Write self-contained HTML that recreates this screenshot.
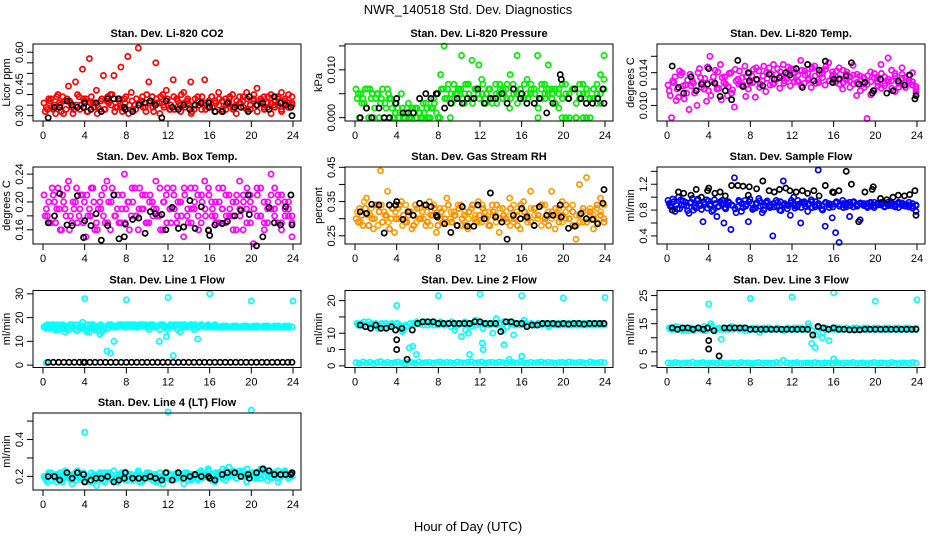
<!DOCTYPE html>
<html><head><meta charset="utf-8"><style>
html,body{margin:0;padding:0;background:#fff;}
svg{display:block;font-family:"Liberation Sans",Arial,sans-serif;}
</style></head><body>
<svg id="chart" width="936" height="540" viewBox="0 0 936 540">
<rect x="0" y="0" width="936" height="540" fill="#fff"/>
<text x="468" y="14" text-anchor="middle" font-size="13">NWR_140518  Std. Dev. Diagnostics</text>
<text x="468" y="531" text-anchor="middle" font-size="13">Hour of Day (UTC)</text>
<g id="panels"></g>
</svg>
<script>
// x tick labels
const xTicks = [0,4,8,12,16,20,24];
// black series times
const blackT = [0.5,1.1,1.6,2.3,2.8,3.3,3.9,4.0,4.6,5.1,5.6,6.2,6.8,7.3,7.8,7.9,8.6,9.2,9.8,10.3,10.8,11.4,11.8,12.4,13.0,13.5,14.1,14.6,15.2,15.9,16.0,16.5,17.2,17.7,18.4,19.0,19.7,19.8,20.5,21.1,21.7,22.2,22.8,23.3,23.8,23.9];
const flowT = [0.5,1.0,1.5,2.0,2.5,3.0,3.5,3.9,4.0,4.0,4.5,5.0,5.5,6.0,6.5,7.0,7.5,8.0,8.5,9.0,9.5,10.0,10.5,11.0,11.5,12.0,12.5,13.0,13.5,14.0,14.5,15.0,15.5,16.0,16.5,17.0,17.5,18.0,18.5,19.0,19.5,20.0,20.5,21.0,21.5,22.0,22.5,23.0,23.5,23.9];

// Panel 1: CO2
const co2A = [.36,.33,.38,.35,.40,.32,.37,.44,.34,.46,.39,.52,.38,.57,.36,.42,.33,.49,.37,.40,.49,.34,.53,.38,.58,.41,.35,.62,.37,.34,.46,.39,.55,.36,.40,.42,.33,.47,.38,.35,.41,.37,.46,.33,.39,.36,.47,.34,.39,.37,.41,.33,.38,.36,.40,.35,.39,.37,.41,.35,.38,.43,.36,.39,.34,.40,.37,.35,.41,.38,.36,.39];
const co2B = [.32,.38,.34,.31,.36,.39,.33,.37,.31,.35,.33,.38,.32,.36,.34,.31,.37,.33,.39,.35,.32,.38,.34,.36,.31,.37,.33,.35,.39,.32,.36,.34,.38,.31,.35,.37,.33,.39,.34,.32,.36,.38,.31,.35,.37,.33,.36,.34,.39,.32,.35,.37,.33,.38,.34,.31,.36,.39,.33,.35,.37,.32,.38,.34,.36,.31,.35,.39,.33,.37,.34,.36];
const co2C = [.34,.37,.33,.39,.35,.31,.38,.36,.33,.40,.35,.37,.32,.39,.36,.34,.38,.33,.36,.40,.34,.37,.32,.39,.35,.33,.38,.36,.34,.40,.37,.32,.36,.39,.34,.38,.35,.33,.37,.40,.34,.36,.32,.38,.35,.39,.33,.37,.34,.36,.38,.32,.35,.39,.33,.37,.36,.34,.38,.33,.40,.35,.37,.33,.39,.36,.34,.38,.32,.36,.40,.35];
const co2K = [.29,.34,.34,.37,.35,.34,.34,.36,.33,.36,.32,.38,.38,.38,.34,.33,.32,.35,.36,.37,.35,.29,.37,.34,.33,.35,.33,.35,.36,.36,.34,.32,.32,.36,.34,.34,.32,.39,.35,.36,.33,.39,.36,.35,.34,.30];
// Panel 2: pressure
const prA = [.006,.000,.004,.002,.006,.000,.005,.003,.000,.006,.004,.000,.002,.005,.000,.003,.000,.002,.001,.000,.003,.000,.002,.001,.000,.006,.004,.000,.007,.005,.006,.003,.007,.004,.006,.005,.008,.004,.006,.003,.007,.005,.004,.006,.002,.007,.005,.006,.004,.008,.005,.006,.013,.004,.007,.005,.006,.003,.005,.000,.007,.004,.006,.000,.005,.007,.000,.004,.006,.005,.003,.008];
const prB = [.004,.005,.003,.006,.004,.002,.005,.004,.003,.005,.002,.001,.000,.002,.001,.000,.002,.000,.001,.003,.002,.000,.004,.005,.009,.015,.006,.005,.004,.006,.013,.005,.007,.012,.006,.011,.005,.003,.006,.004,.005,.007,.006,.004,.009,.005,.013,.006,.004,.005,.007,.003,.000,.006,.005,.011,.004,.006,.002,.007,.000,.005,.006,.000,.004,.005,.006,.000,.004,.007,.009,.013];
const prC = [.005,.003,.006,.000,.005,.004,.000,.006,.002,.004,.000,.003,.001,.000,.002,.000,.001,.002,.000,.001,.000,.002,.003,.000,.006,.004,.007,.003,.005,.006,.004,.007,.005,.003,.006,.004,.007,.005,.006,.004,.003,.006,.005,.007,.004,.006,.003,.005,.007,.004,.006,.005,.002,.007,.004,.006,.005,.003,.006,.004,.005,.000,.006,.003,.007,.000,.005,.004,.006,.003,.005,.006];
const prK = [.000,.002,.000,.002,.000,.000,.003,.004,.001,.001,.001,.004,.005,.004,.005,.005,.002,.003,.004,.003,.004,.004,.006,.003,.004,.004,.005,.003,.006,.004,.005,.003,.003,.004,.001,.003,.009,.008,.004,.006,.004,.003,.003,.004,.006,.003];
// Panel 3: Li-820 temp
const tpA = [.0125,.0085,.0135,.0110,.0140,.0125,.0095,.0130,.0118,.0145,.0128,.0105,.0160,.0135,.0120,.0150,.0128,.0112,.0140,.0098,.0132,.0125,.0148,.0120,.0136,.0110,.0142,.0130,.0117,.0146,.0126,.0138,.0121,.0150,.0133,.0124,.0144,.0130,.0155,.0127,.0139,.0122,.0148,.0131,.0143,.0125,.0152,.0135,.0128,.0146,.0120,.0138,.0130,.0149,.0112,.0136,.0126,.0084,.0141,.0118,.0133,.0150,.0124,.0158,.0130,.0139,.0122,.0146,.0134,.0128,.0140,.0120];
const tpB = [.0118,.0130,.0106,.0142,.0124,.0115,.0138,.0127,.0100,.0134,.0120,.0147,.0112,.0128,.0141,.0107,.0135,.0123,.0115,.0144,.0126,.0134,.0111,.0139,.0128,.0146,.0122,.0136,.0140,.0125,.0150,.0132,.0141,.0127,.0138,.0145,.0129,.0137,.0124,.0142,.0133,.0147,.0136,.0128,.0139,.0144,.0130,.0141,.0135,.0126,.0143,.0131,.0122,.0137,.0128,.0118,.0134,.0126,.0113,.0139,.0128,.0121,.0135,.0129,.0143,.0117,.0127,.0138,.0122,.0131,.0125,.0116];
const tpC = [.0112,.0128,.0120,.0137,.0108,.0131,.0124,.0115,.0140,.0122,.0133,.0118,.0129,.0143,.0121,.0134,.0126,.0139,.0119,.0130,.0142,.0125,.0135,.0128,.0144,.0131,.0126,.0148,.0133,.0139,.0127,.0145,.0136,.0130,.0147,.0134,.0140,.0129,.0143,.0137,.0131,.0145,.0127,.0139,.0134,.0148,.0130,.0137,.0142,.0133,.0128,.0141,.0135,.0126,.0138,.0131,.0122,.0136,.0129,.0134,.0124,.0139,.0127,.0132,.0121,.0136,.0128,.0133,.0125,.0137,.0129,.0123];
const tpK = [.0148,.0122,.0115,.0135,.0118,.0126,.0126,.0145,.0127,.0111,.0118,.0107,.0155,.0123,.0140,.0130,.0132,.0124,.0138,.0132,.0134,.0140,.0137,.0145,.0122,.0150,.0130,.0143,.0154,.0128,.0132,.0132,.0136,.0152,.0126,.0128,.0115,.0118,.0132,.0115,.0118,.0130,.0125,.0137,.0108,.0112];
// Panel 4: amb box temp
const abA = [.21,.18,.17,.20,.22,.16,.19,.23,.17,.20,.18,.21,.15,.19,.22,.17,.20,.18,.23,.16,.21,.19,.17,.24,.20,.18,.22,.16,.19,.21,.17,.20,.23,.18,.16,.21,.19,.22,.17,.20,.15,.18,.22,.19,.21,.17,.23,.16,.20,.18,.22,.19,.17,.21,.18,.20,.23,.16,.19,.21,.14,.22,.18,.20,.17,.24,.19,.21,.16,.20,.18,.15];
const abB = [.18,.20,.22,.17,.19,.21,.18,.16,.20,.22,.19,.17,.21,.18,.20,.16,.19,.22,.17,.20,.18,.21,.19,.17,.20,.22,.18,.19,.21,.17,.20,.18,.19,.22,.20,.17,.19,.21,.18,.20,.22,.19,.17,.20,.18,.21,.19,.22,.18,.20,.17,.19,.21,.18,.20,.16,.19,.21,.17,.20,.19,.18,.22,.17,.19,.21,.18,.20,.17,.19,.20,.18];
const abC = [.19,.17,.21,.19,.16,.20,.22,.18,.19,.17,.21,.20,.18,.22,.16,.19,.21,.17,.20,.22,.18,.17,.21,.19,.16,.20,.18,.22,.19,.17,.21,.19,.18,.16,.20,.22,.17,.19,.20,.18,.21,.17,.19,.22,.16,.20,.18,.21,.19,.17,.20,.22,.18,.19,.16,.21,.18,.20,.22,.17,.19,.21,.18,.16,.20,.19,.22,.17,.21,.18,.19,.17];
const abK = [.170,.180,.212,.167,.166,.209,.149,.173,.166,.183,.145,.166,.210,.147,.150,.168,.175,.177,.155,.186,.183,.182,.160,.192,.162,.164,.202,.162,.193,.159,.152,.167,.169,.172,.180,.188,.210,.182,.137,.150,.192,.170,.167,.193,.210,.167];
// Panel 5: RH
const rhA = [.30,.33,.28,.36,.31,.27,.34,.44,.32,.38,.30,.26,.33,.35,.29,.31,.27,.34,.30,.32,.28,.35,.31,.26,.33,.29,.36,.30,.32,.28,.34,.31,.27,.33,.30,.35,.29,.32,.28,.34,.31,.26,.33,.30,.36,.29,.32,.27,.35,.31,.38,.33,.30,.34,.29,.32,.38,.27,.31,.35,.30,.33,.28,.24,.40,.29,.42,.31,.27,.33,.36,.30];
const rhB = [.32,.29,.35,.31,.33,.30,.28,.34,.31,.29,.33,.32,.30,.28,.34,.32,.31,.29,.33,.30,.32,.28,.34,.31,.30,.33,.29,.32,.31,.34,.28,.32,.30,.33,.31,.29,.34,.30,.32,.31,.29,.33,.30,.32,.28,.34,.31,.30,.32,.29,.33,.31,.30,.28,.34,.32,.30,.31,.33,.29,.32,.30,.34,.31,.29,.32,.30,.33,.31,.29,.32,.34];
const rhC = [.29,.31,.33,.28,.30,.34,.32,.29,.31,.27,.33,.30,.34,.31,.29,.32,.28,.33,.30,.34,.29,.31,.33,.28,.32,.30,.34,.29,.31,.33,.30,.28,.32,.34,.29,.31,.33,.30,.28,.32,.34,.30,.31,.29,.33,.30,.28,.34,.32,.30,.29,.33,.31,.34,.30,.28,.32,.33,.29,.31,.34,.30,.32,.28,.31,.33,.29,.32,.30,.34,.31,.29];
const rhK = [.320,.315,.342,.340,.258,.340,.340,.350,.298,.320,.310,.345,.340,.335,.310,.305,.285,.260,.280,.335,.278,.278,.340,.300,.375,.305,.290,.240,.310,.300,.330,.305,.280,.335,.310,.310,.340,.305,.272,.278,.315,.300,.298,.285,.345,.385];
// Panel 6: sample flow
const sfA = [.95,.85,.78,1.0,.88,.92,.75,.98,.83,.90,.62,.96,.87,.80,.70,.93,.60,.88,.50,1.30,.85,.78,.95,.62,.90,.83,.98,.76,.92,.86,.40,.95,.80,1.25,.88,.72,1.0,.85,.60,.93,.78,.96,.88,1.42,.82,.55,.90,.68,.45,.30,.95,.85,.70,.92,.88,.65,.90,.86,.92,.84,.90,.88,.85,.92,.87,.89,.84,.91,.86,.88,.83,.78];
const sfB = [.90,.97,.88,.82,.94,.86,.91,.80,.95,.87,.92,.83,.89,.96,.85,.90,.84,.93,.88,.82,.95,.90,.86,.93,.81,.89,.94,.87,.91,.84,.90,.86,.93,.88,.82,.91,.87,.95,.84,.90,.88,.93,.85,.90,.87,.92,.84,.89,.91,.86,.90,.88,.92,.85,.89,.91,.87,.90,.86,.92,.88,.89,.91,.87,.90,.86,.92,.88,.89,.85,.90,.87];
const sfC = [.86,.93,.82,.96,.88,.79,.92,.85,.97,.81,.89,.94,.78,.90,.86,.95,.82,.91,.87,.76,.93,.84,.89,.97,.83,.91,.86,.80,.94,.88,.85,.92,.79,.90,.87,.95,.83,.89,.92,.86,.90,.84,.93,.87,.80,.91,.88,.85,.93,.89,.84,.91,.87,.93,.86,.90,.88,.84,.91,.87,.89,.92,.86,.88,.91,.85,.90,.87,.89,.92,.86,.88];
const sfK = [.80,1.08,1.06,1.03,1.12,1.00,1.10,1.14,1.06,1.08,1.02,1.18,1.18,1.17,1.03,1.16,1.13,1.25,1.10,1.08,1.12,1.14,1.10,1.08,1.10,1.06,1.10,1.02,1.18,1.08,1.07,1.10,1.40,1.20,.62,1.08,1.12,1.16,.98,.96,1.00,1.03,1.02,1.04,1.10,.72];
// Panel 7: line 1
const l1A = [16,17,16,15,17,16,14,16,17,15,16,18,15,14,17,16,13,15,6,5,10,16,17,17,17,16,17,16,17,17,15,17,16,10,17,12,16,4,17,14,17,16,17,15,11,17,16,17,16,17,16,16,16,16,16,16,16,16,16,16,16,16,16,16,16,16,16,16,16,16,16,16];
const l1B = [16.5,15.5,17,16,15,17,16.5,15,16,17,15.5,16,14,17,16,15,17,16,15.5,17,16,16.5,17,16,16.5,17,16,16.5,17,16.5,16,17,16.5,15,17,16,17,16.5,15,17,16,16.5,17,16,16.5,17,16,16.5,16,16.5,16,16,16.5,16,16,16.5,16,16,16.5,16,16,16.5,16,16,16.5,16,16,16.5,16,16,16.5,16];
const l1C = [15.5,16.5,17,15,16,16.5,15,17,16,14.5,16.5,15.5,17,16,15,16.5,14,16,17,16,16.5,17,16.5,16,17,16.5,16,17,16.5,16,17,16,16.5,17,16,15,16.5,17,16,16.5,17,16.5,16,17,16,16.5,16,16,16.5,16,16,16.5,16,16,16.5,16,16,16.5,16,16,16.5,16,16,16.5,16,16,16.5,16,16,16.5,16,16];
const l1OutT = [0.3,4,8,12,16,20,24];
const l1OutV = [1,28,27.5,28.5,30,27,27];
const l1K = [1.2,1.2,1.2,1.2,1.2,1.2,1.2,1.2,1.2,1.2,1.2,1.2,1.2,1.2,1.2,1.2,1.2,1.2,1.2,1.2,1.2,1.2,1.2,1.2,1.2,1.2,1.2,1.2,1.2,1.2,1.2,1.2,1.2,1.2,1.2,1.2,1.2,1.2,1.2,1.2,1.2,1.2,1.2,1.2,1.2,1.2,1.2,1.2,1.2,1.2];
// Panel 8: line 2
const l2Low = [1.0,.8,1.2,.9,1.1,.7,1.0,1.3,.9,1.1,.8,1.0,1.2,.9,.6,1.1,1.0,.8,1.2,.9,1.0,1.1,.8,1.0,1.2,.9,1.1,1.0,.8,1.2,1.0,.9,1.1,1.3,.9,1.0,1.2,.8,1.0,1.1,.9,1.2,1.0,.8,1.1,1.0,.9,1.2,1.0,.8,1.1,.9,1.0,1.2,.9,1.1,1.0,.8,1.0,1.1,.9,1.2,1.0,.9,1.1,1.0,.8,1.2,1.0,.9,1.1,1.0];
const l2High = [13,12.5,13.5,12,13,12.5,11.5,13,12,12.5,13,11,12,10.5,12.5,5.5,6,3.5,13,12.5,13.5,13,12.5,13,13.5,12.5,13,12,11,13,9,13.5,10,12,14,13,7,12.5,13,10,14.5,13,11,12,13.5,9.5,12.5,13,14,12.5,13,12.5,13,12.5,13,12,12.5,13,12.5,13,12.5,13,12.5,13,12.5,13,12.5,13,12.5,13,12.5,13];
const l2C = [12.5,13,12,13.5,12.5,13,12,12.5,13,12,12.5,13,12.5,11,12,13,13,13.5,13,13.5,12.5,13,13.5,12.5,13,12.5,13,13.5,12,12.5,13,11,12.5,13,12.5,13.5,11.5,13,12.5,13,12.5,13,13.5,12,13,12.5,13,12.5,13,12.5,13,12.5,13,12.5,13,12.5,13,12.5,13,12.5,13,12.5,13,12.5,13,12.5,13,12.5,13,12.5,13,12.5];
const l2OutT = [4,8,12,16,20,24,4.1,11,12.3,14.3,14.8,16];
const l2OutV = [18.5,21.5,22,21.5,20.8,21,13,3.5,5,6.5,2,3];
const l2K = [12.5,12,11.5,12.5,11.5,11.5,12,11,8,5,11.5,2,11,13,13.5,13.5,13.5,13,13,13,13,13,13,13,13.5,13.5,13,13,13,10.5,13.5,13.5,13,13,12,12.5,12.5,13,13,13,12.8,13,12.8,13,13,12.8,13,13,13,13];
// Panel 9: line 3
const l3Low = [1.1,.9,1.2,1.0,.8,1.1,1.0,1.3,.9,1.0,1.2,.8,1.0,1.1,.9,1.2,1.0,.8,1.1,1.0,.9,1.2,1.0,1.1,.8,1.0,1.2,.9,1.1,1.0,.9,1.2,1.0,2.0,1.1,.9,1.0,1.2,.8,1.0,1.1,.9,1.2,1.0,.9,1.1,1.0,.8,1.2,1.0,.9,1.1,1.0,1.2,.9,1.0,1.1,.8,1.0,1.2,.9,1.1,1.0,.9,1.2,1.0,.8,1.1,1.0,.9,1.2,1.0];
const l3High = [13.5,13,14,13,12.5,13.5,13,12.5,13.5,13,14,13.5,15,12.5,13,9.5,13.5,13,14,13.5,13,13.5,12.5,13,13.5,13,12,13.5,13,13.5,13,13.5,13,12.5,13.5,13,13.5,13,13.5,13,15,8,6.5,14,10,13,9,13.5,13,13.5,13,13.5,13,13.5,13,13,13.5,13,13,13.5,13,13,13.5,13,13,13.5,13,13,13.5,13,13,13.5];
const l3C = [13,13.5,13,13.5,13,12.5,13.5,13,13.5,13,12.5,13,14,13,13.5,13,13,13.5,13,13.5,13,13,13.5,13,13,13.5,13,13,13.5,13,13,13.5,13,13,13.5,13,13,13.5,13,13,14,12.5,11,13.5,12,13.5,13,13,13.5,13,13,13.5,13,13,13.5,13,13,13.5,13,13,13.5,13,13,13.5,13,13,13.5,13,13,13.5,13,13];
const l3OutT = [4,8,12,16,20,24,16];
const l3OutV = [22,24,24.5,26,23,23.5,2.5];
const l3K = [13.5,13,13.5,13.5,13,13.5,13,13.5,9,6,12.5,3.5,13.5,13.5,13.5,13.5,13.5,13,13,13,13,13,13,13,13,13,13,13,13,11,14,13.5,13,13.5,13,13,12.8,12.8,12.8,13,13,13,13,13,13,13,13,13,13,13];
// Panel 10: line 4
const l4A = [.20,.17,.22,.19,.21,.18,.23,.20,.16,.22,.19,.21,.17,.20,.20,.15,.22,.18,.21,.19,.23,.17,.20,.22,.18,.21,.19,.23,.17,.20,.22,.18,.21,.19,.16,.22,.20,.18,.21,.19,.16,.22,.19,.21,.18,.23,.20,.24,.19,.17,.22,.20,.18,.25,.21,.19,.23,.20,.17,.22,.22,.19,.21,.24,.18,.22,.20,.17,.21,.23,.19,.20];
const l4B = [.19,.22,.18,.21,.20,.17,.22,.19,.21,.18,.20,.22,.19,.17,.21,.20,.18,.22,.19,.21,.17,.20,.22,.18,.21,.19,.20,.22,.18,.21,.19,.20,.17,.22,.20,.19,.21,.18,.22,.20,.19,.21,.18,.20,.22,.19,.21,.20,.18,.22,.21,.19,.23,.20,.22,.19,.21,.23,.20,.22,.19,.21,.24,.20,.22,.19,.21,.23,.20,.22,.19,.21];
const l4C = [.18,.21,.20,.17,.22,.19,.20,.18,.21,.23,.19,.17,.20,.22,.18,.21,.19,.17,.22,.20,.18,.21,.19,.22,.20,.18,.21,.17,.20,.22,.19,.21,.18,.20,.19,.22,.18,.21,.20,.19,.22,.18,.21,.20,.19,.22,.20,.23,.21,.19,.22,.24,.20,.21,.23,.19,.22,.20,.24,.21,.20,.22,.19,.23,.21,.20,.22,.19,.21,.23,.20,.22];
const l4OutT = [4,12,20];
const l4OutV = [.44,.55,.56];
const l4K = [.20,.20,.18,.22,.19,.22,.21,.17,.18,.19,.19,.20,.17,.18,.19,.22,.19,.19,.19,.20,.19,.18,.22,.18,.22,.19,.20,.21,.20,.20,.19,.18,.21,.22,.22,.20,.21,.19,.22,.24,.23,.21,.21,.21,.21,.22];

const NS = 'http://www.w3.org/2000/svg';
const root = document.getElementById('panels');
const colL = [33,345,657], rowT = [44,167,290.5,413], BW = 268, BH = 77;

function mk(tag, attrs, parent){
  const e = document.createElementNS(NS, tag);
  for (const k in attrs) e.setAttribute(k, attrs[k]);
  parent.appendChild(e);
  return e;
}
function evenT(n, off){ const a=[]; for(let i=0;i<n;i++) a.push(0.1+off+i*(23.8-off)/(n-1)); return a; }

function panel(cfg){
  const L = colL[cfg.col], T = rowT[cfg.row];
  const g = mk('g', {}, root);
  
  
  const xs = t => L + 10 + t/24*250;
  const ys = v => T + BH - (v - cfg.ymin)/(cfg.ymax - cfg.ymin)*BH;
  const pts = mk('g', {fill:'none','stroke-width':'1.7'}, g);
  
  
  cfg.series.forEach(s => {
    const t = s.t || evenT(s.v.length, s.off || 0);
    const n = Math.min(t.length, s.v.length);
    for (let i=0;i<n;i++){
      const c = mk('circle', {cx:xs(t[i]).toFixed(1), cy:ys(s.v[i]).toFixed(1), r:2.6, stroke:s.color}, pts);
      
      
    }
  });
  const box = mk('rect', {x:L, y:T, width:BW, height:BH, fill:'none', stroke:'#000','stroke-width':1}, g);
  
  
  const tt = mk('text', {x:L+BW/2, y:T-7, 'text-anchor':'middle','font-size':11,'font-weight':'bold'}, g);
  tt.textContent = cfg.title;
  
  
  const xa = mk('g', {}, g);
  
  
  xTicks.forEach(v => {
    mk('line', {x1:xs(v), x2:xs(v), y1:T+BH, y2:T+BH+6, stroke:'#000'}, xa);
    const tx = mk('text', {x:xs(v), y:T+BH+18, 'text-anchor':'middle','font-size':11}, xa);
    tx.textContent = v;
    
    
  });
  const ya = mk('g', {}, g);
  
  
  cfg.ticks.forEach(v => {
    mk('line', {x1:L-6, x2:L, y1:ys(v), y2:ys(v), stroke:'#000'}, ya);
  });
  cfg.labels.forEach((lab, i) => {
    const y = ys(cfg.labelVals[i]);
    const tx = mk('text', {x:0, y:0, 'text-anchor':'middle','font-size':11, transform:`translate(${L-10},${y}) rotate(-90)`}, ya);
    tx.textContent = lab;
    
    
  });
  const yt = mk('text', {x:0, y:0, 'text-anchor':'middle','font-size':11, transform:`translate(${L-23},${T+BH/2}) rotate(-90)`}, g);
  yt.textContent = cfg.ylab;
  
  
}

const K = '#000000';
panel({name:'panel-co2', col:0,row:0,title:'Stan. Dev. Li-820 CO2', ylab:'Licor ppm', ymin:.275,ymax:.639,
  ticks:[.30,.35,.40,.45,.50,.55,.60], labels:['0.30','0.45','0.60'], labelVals:[.30,.45,.60],
  series:[{v:co2A,color:'#ff0000',label:'co2'},{v:co2B,color:'#ff0000',label:'co2',off:.11},{v:co2C,color:'#ff0000',label:'co2',off:.22},{t:blackT,v:co2K,color:K,label:'co2-black'}]});
panel({name:'panel-pressure', col:1,row:0,title:'Stan. Dev. Li-820 Pressure', ylab:'kPa', ymin:-.0007,ymax:.0154,
  ticks:[0,.005,.010,.015], labels:['0.000','0.010'], labelVals:[0,.010],
  series:[{v:prA,color:'#00ee00',label:'pressure'},{v:prB,color:'#00ee00',label:'pressure',off:.11},{v:prC,color:'#00ee00',label:'pressure',off:.22},{t:blackT,v:prK,color:K,label:'pressure-black'}]});
panel({name:'panel-li820-temp', col:2,row:0,title:'Stan. Dev. Li-820 Temp.', ylab:'degrees C', ymin:.0081,ymax:.0175,
  ticks:[.010,.012,.014,.016], labels:['0.010','0.014'], labelVals:[.010,.014],
  series:[{v:tpA,color:'#ff00ff',label:'temp'},{v:tpB,color:'#ff00ff',label:'temp',off:.11},{v:tpC,color:'#ff00ff',label:'temp',off:.22},{t:blackT,v:tpK,color:K,label:'temp-black'}]});
panel({name:'panel-amb-box-temp', col:0,row:1,title:'Stan. Dev. Amb. Box Temp.', ylab:'degrees C', ymin:.1396,ymax:.2502,
  ticks:[.16,.18,.20,.22,.24], labels:['0.16','0.20','0.24'], labelVals:[.16,.20,.24],
  series:[{v:abA,color:'#ff00ff',label:'ambtemp'},{v:abB,color:'#ff00ff',label:'ambtemp',off:.11},{v:abC,color:'#ff00ff',label:'ambtemp',off:.22},{t:blackT,v:abK,color:K,label:'ambtemp-black'}]});
panel({name:'panel-gas-rh', col:1,row:1,title:'Stan. Dev. Gas Stream RH', ylab:'percent', ymin:.226,ymax:.451,
  ticks:[.25,.30,.35,.40,.45], labels:['0.25','0.35','0.45'], labelVals:[.25,.35,.45],
  series:[{v:rhA,color:'#ff9900',label:'rh'},{v:rhB,color:'#ffaa00',label:'rh',off:.11},{v:rhC,color:'#ff8800',label:'rh',off:.22},{t:blackT,v:rhK,color:K,label:'rh-black'}]});
panel({name:'panel-sample-flow', col:2,row:1,title:'Stan. Dev. Sample Flow', ylab:'ml/min', ymin:.275,ymax:1.467,
  ticks:[.4,.6,.8,1.0,1.2,1.4], labels:['0.4','0.8','1.2'], labelVals:[.4,.8,1.2],
  series:[{v:sfA,color:'#0000ff',label:'sampleflow'},{v:sfB,color:'#0000ff',label:'sampleflow',off:.11},{v:sfC,color:'#0000ff',label:'sampleflow',off:.22},{t:blackT,v:sfK,color:K,label:'sampleflow-black'}]});
panel({name:'panel-line1-flow', col:0,row:2,title:'Stan. Dev. Line 1 Flow', ylab:'ml/min', ymin:-1,ymax:31.4,
  ticks:[0,10,20,30], labels:['0','10','20','30'], labelVals:[0,10,20,30],
  series:[{v:l1A,color:'#00ffff',label:'line1'},{v:l1B,color:'#00ffff',label:'line1',off:.11},{v:l1C,color:'#00ffff',label:'line1',off:.22},{t:l1OutT,v:l1OutV,color:'#00ffff',label:'line1'},{t:flowT,v:l1K,color:K,label:'line1-black'}]});
panel({name:'panel-line2-flow', col:1,row:2,title:'Stan. Dev. Line 2 Flow', ylab:'ml/min', ymin:-.5,ymax:23.1,
  ticks:[0,5,10,15,20], labels:['0','5','10','20'], labelVals:[0,5,10,20],
  series:[{v:l2Low,color:'#00ffff',label:'line2'},{v:l2High,color:'#00ffff',label:'line2',off:.11},{v:l2C,color:'#00ffff',label:'line2',off:.22},{t:l2OutT,v:l2OutV,color:'#00ffff',label:'line2'},{t:flowT,v:l2K,color:K,label:'line2-black'}]});
panel({name:'panel-line3-flow', col:2,row:2,title:'Stan. Dev. Line 3 Flow', ylab:'ml/min', ymin:-.57,ymax:26.8,
  ticks:[0,5,10,15,20,25], labels:['0','5','15','25'], labelVals:[0,5,15,25],
  series:[{v:l3Low,color:'#00ffff',label:'line3'},{v:l3High,color:'#00ffff',label:'line3',off:.11},{v:l3C,color:'#00ffff',label:'line3',off:.22},{t:l3OutT,v:l3OutV,color:'#00ffff',label:'line3'},{t:flowT,v:l3K,color:K,label:'line3-black'}]});
panel({name:'panel-line4-flow', col:0,row:3,title:'Stan. Dev. Line 4 (LT) Flow', ylab:'ml/min', ymin:.126,ymax:.544,
  ticks:[.2,.3,.4,.5], labels:['0.2','0.4'], labelVals:[.2,.4],
  series:[{v:l4A,color:'#00ffff',label:'line4'},{v:l4B,color:'#00ffff',label:'line4',off:.11},{v:l4C,color:'#00ffff',label:'line4',off:.22},{t:l4OutT,v:l4OutV,color:'#00ffff',label:'line4'},{t:blackT,v:l4K,color:K,label:'line4-black'}]});
</script>
</body></html>
